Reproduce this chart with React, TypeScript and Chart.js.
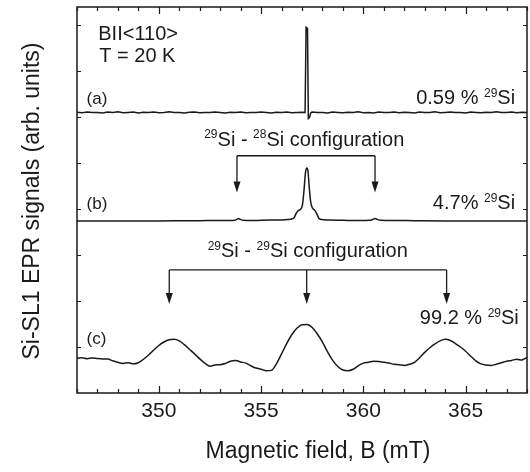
import { useEffect, useRef } from "react";
import { Chart, registerables } from "chart.js";
Chart.register(...registerables);

const fieldMin = 346;
const fieldMax = 368;
const signalMin = 0;
const signalMax = 100.7;
const xTickLabels = [350, 355, 360, 365];
const xMinorStep = 1;
const yTickValues = [12, 24, 36, 48, 60, 72, 84, 96];

// trace (a): 0.59 % 29Si
const traceA: [number, number][] = [
  [346.0, 73.25], [346.25, 73.1], [346.5, 73.3], [346.75, 73.15], [347.0, 73.2], [347.25, 73.05],
  [347.5, 73.3], [347.75, 73.2], [348.0, 73.35], [348.25, 73.1], [348.5, 73.2], [348.75, 73.3],
  [349.0, 73.05], [349.25, 73.25], [349.5, 73.15], [349.75, 73.3], [350.0, 73.1], [350.25, 73.2],
  [350.5, 73.35], [350.75, 73.15], [351.0, 73.2], [351.25, 73.05], [351.5, 73.25], [351.75, 73.3],
  [352.0, 73.1], [352.25, 73.2], [352.5, 73.15], [352.75, 73.3], [353.0, 73.2], [353.25, 73.05],
  [353.5, 73.25], [353.75, 73.2], [354.0, 73.3], [354.25, 73.1], [354.5, 73.2], [354.75, 73.15],
  [355.0, 73.3], [355.25, 73.2], [355.5, 73.05], [355.75, 73.25], [356.0, 73.2], [356.25, 73.3],
  [356.5, 73.1], [356.75, 73.2], [357.0, 73.25], [357.15, 73.2], [357.2, 95.4], [357.27, 95.1],
  [357.31, 71.6], [357.37, 71.9], [357.43, 73.1], [357.5, 73.3], [357.75, 73.15], [358.0, 73.2],
  [358.25, 73.05], [358.5, 73.3], [358.75, 73.2], [359.0, 73.1], [359.25, 73.25], [359.5, 73.2],
  [359.75, 73.35], [360.0, 73.1], [360.25, 73.2], [360.5, 73.05], [360.75, 73.3], [361.0, 73.2],
  [361.25, 73.15], [361.5, 73.3], [361.75, 73.1], [362.0, 73.25], [362.25, 73.2], [362.5, 73.05],
  [362.75, 73.3], [363.0, 73.15], [363.25, 73.2], [363.5, 73.35], [363.75, 73.1], [364.0, 73.2],
  [364.25, 73.3], [364.5, 73.15], [364.75, 73.2], [365.0, 73.05], [365.25, 73.3], [365.5, 73.2],
  [365.75, 73.1], [366.0, 73.25], [366.25, 73.2], [366.5, 73.35], [366.75, 73.15], [367.0, 73.2],
  [367.25, 73.3], [367.5, 73.1], [367.75, 73.25], [368.0, 73.2],
];

// trace (b): 4.7 % 29Si
const traceB: [number, number][] = [
  [346.0, 44.9], [347.0, 44.9], [348.0, 44.9], [349.0, 44.9], [350.0, 44.9], [351.0, 44.92],
  [352.0, 44.95], [353.0, 45.0], [353.5, 45.0], [353.7, 45.05], [353.82, 45.3], [353.9, 45.5],
  [353.98, 45.3], [354.15, 45.05], [354.5, 45.0], [355.0, 45.05], [355.5, 45.1], [356.0, 45.15],
  [356.3, 45.25], [356.5, 45.4], [356.62, 45.8], [356.72, 46.9], [356.8, 47.5], [356.92, 47.9],
  [357.02, 49.0], [357.1, 53.0], [357.17, 57.5], [357.23, 58.7], [357.29, 58.0], [357.35, 54.0],
  [357.42, 50.0], [357.52, 48.2], [357.62, 47.7], [357.72, 46.8], [357.82, 45.6], [357.95, 45.25],
  [358.3, 45.1], [359.0, 45.05], [359.8, 45.0], [360.3, 45.05], [360.45, 45.25], [360.57, 45.5],
  [360.67, 45.3], [360.85, 45.05], [361.5, 45.0], [362.5, 44.95], [364.0, 44.9], [366.0, 44.9],
  [368.0, 44.9],
];

// trace (c): 99.2 % 29Si
const traceC: [number, number][] = [
  [346.0, 9.05], [346.25, 9.2], [346.5, 8.95], [346.75, 9.15], [347.0, 9.0], [347.25, 8.9],
  [347.5, 8.85], [347.75, 8.4], [348.0, 8.0], [348.25, 7.7], [348.5, 7.9], [348.75, 7.6],
  [349.0, 7.9], [349.25, 8.8], [349.5, 9.9], [349.75, 11.2], [350.0, 12.4], [350.25, 13.3],
  [350.5, 13.9], [350.75, 14.0], [351.0, 13.6], [351.25, 12.6], [351.5, 11.4], [351.75, 10.2],
  [352.0, 8.9], [352.25, 7.8], [352.5, 7.0], [352.75, 7.3], [353.0, 7.4], [353.25, 7.7],
  [353.5, 8.3], [353.75, 8.5], [354.0, 8.1], [354.25, 7.8], [354.5, 7.1], [354.75, 6.5],
  [355.0, 6.2], [355.25, 5.8], [355.5, 5.9], [355.75, 7.6], [356.0, 10.2], [356.25, 12.9],
  [356.5, 15.2], [356.75, 16.9], [357.0, 17.8], [357.25, 17.9], [357.5, 17.1], [357.75, 15.4],
  [358.0, 13.3], [358.25, 10.7], [358.5, 8.5], [358.75, 6.9], [359.0, 6.0], [359.25, 5.8],
  [359.5, 6.2], [359.75, 7.1], [360.0, 7.8], [360.25, 8.0], [360.5, 8.3], [360.75, 8.2],
  [361.0, 8.0], [361.25, 7.8], [361.5, 7.5], [361.75, 7.4], [362.0, 7.2], [362.25, 7.5],
  [362.5, 8.0], [362.75, 9.2], [363.0, 10.6], [363.25, 11.8], [363.5, 12.8], [363.75, 13.6],
  [364.0, 14.0], [364.25, 13.7], [364.5, 12.9], [364.75, 12.0], [365.0, 10.9], [365.25, 9.6],
  [365.5, 8.4], [365.75, 7.6], [366.0, 7.3], [366.25, 7.2], [366.5, 7.5], [366.75, 7.9],
  [367.0, 8.3], [367.25, 8.5], [367.5, 8.8], [367.75, 8.6], [368.0, 9.3],
];

// brackets with arrows (field positions, signal levels)
const bracketBArrows = [353.82, 360.57];
const bracketBLevel = 61.9;
const bracketBTip = 52.3;
const bracketCArrows = [350.51, 357.23, 364.07];
const bracketCLevel = 32.1;
const bracketCTip = 23.2;

type Run = [string, boolean];
type Note = { runs: Run[]; x: number; y: number; align: "left" | "right" | "center"; size: number };

const notes: Note[] = [
  { runs: [["BII<110>", false]], x: 347.04, y: 94.05, align: "left", size: 20 },
  { runs: [["T = 20 K", false]], x: 347.09, y: 88.2, align: "left", size: 20 },
  { runs: [["(a)", false]], x: 346.47, y: 77.1, align: "left", size: 17 },
  { runs: [["0.59 % ", false], ["29", true], ["Si", false]], x: 367.42, y: 77.3, align: "right", size: 20 },
  { runs: [["29", true], ["Si - ", false], ["28", true], ["Si configuration", false]], x: 357.11, y: 66.4, align: "center", size: 20 },
  { runs: [["(b)", false]], x: 346.47, y: 49.5, align: "left", size: 17 },
  { runs: [["4.7% ", false], ["29", true], ["Si", false]], x: 367.42, y: 49.9, align: "right", size: 20 },
  { runs: [["29", true], ["Si - ", false], ["29", true], ["Si configuration", false]], x: 357.28, y: 37.3, align: "center", size: 20 },
  { runs: [["99.2 % ", false], ["29", true], ["Si", false]], x: 367.6, y: 19.9, align: "right", size: 20 },
  { runs: [["(c)", false]], x: 346.47, y: 14.5, align: "left", size: 17 },
];

const xTitle = "Magnetic field, B (mT)";
const yTitle = "Si-SL1 EPR signals (arb. units)";

const FONT = '"Liberation Sans", Arial, Helvetica, sans-serif';
const INK = "#1a1a1a";

function drawRuns(ctx: CanvasRenderingContext2D, runs: Run[], px: number, py: number, align: string, size: number) {
  const supSize = Math.round(size * 0.6);
  const widths = runs.map(([t, sup]) => {
    ctx.font = `${sup ? supSize : size}px ${FONT}`;
    return ctx.measureText(t).width;
  });
  const total = widths.reduce((a, b) => a + b, 0);
  let x = align === "left" ? px : align === "right" ? px - total : px - total / 2;
  const base = py + size * 0.36;
  ctx.textAlign = "left";
  ctx.textBaseline = "alphabetic";
  runs.forEach(([t, sup], i) => {
    ctx.font = `${sup ? supSize : size}px ${FONT}`;
    ctx.fillText(t, x, sup ? base - size * 0.36 : base);
    x += widths[i];
  });
}

const decorPlugin = {
  id: "decor",
  afterDraw(chart: any) {
    const { ctx, chartArea } = chart;
    const { left, right, top, bottom } = chartArea;
    const xs = chart.scales.x;
    const ys = chart.scales.y;
    ctx.save();
    ctx.strokeStyle = INK;
    ctx.fillStyle = INK;
    // frame
    ctx.lineWidth = 1.5;
    ctx.strokeRect(left, top, right - left, bottom - top);
    // x ticks (bottom and top, inward)
    ctx.lineWidth = 1.2;
    for (let v = fieldMin; v <= fieldMax + 1e-9; v += xMinorStep) {
      const px = Math.round(xs.getPixelForValue(v)) + 0.5;
      const major = xTickLabels.includes(v);
      const len = major ? 7 : 4;
      ctx.beginPath();
      ctx.moveTo(px, bottom);
      ctx.lineTo(px, bottom - len);
      ctx.moveTo(px, top);
      ctx.lineTo(px, top + len);
      ctx.stroke();
    }
    // y ticks (left and right, inward)
    yTickValues.forEach((v) => {
      const py = Math.round(ys.getPixelForValue(v)) + 0.5;
      ctx.beginPath();
      ctx.moveTo(left, py);
      ctx.lineTo(left + 4, py);
      ctx.moveTo(right, py);
      ctx.lineTo(right - 4, py);
      ctx.stroke();
    });
    // x tick labels
    ctx.font = `21px ${FONT}`;
    ctx.textAlign = "center";
    ctx.textBaseline = "middle";
    xTickLabels.forEach((v) => {
      ctx.fillText(String(v), xs.getPixelForValue(v), bottom + 18);
    });
    // axis titles
    ctx.font = `23px ${FONT}`;
    ctx.fillText(xTitle, 318, 452);
    ctx.save();
    ctx.translate(33, (top + bottom) / 2 + 1);
    ctx.rotate(-Math.PI / 2);
    ctx.fillText(yTitle, 0, 0);
    ctx.restore();
    // annotations
    notes.forEach((n) => {
      drawRuns(ctx, n.runs, xs.getPixelForValue(n.x), ys.getPixelForValue(n.y), n.align, n.size);
    });
    // brackets
    const bracket = (arrows: number[], level: number, tip: number) => {
      const ly = ys.getPixelForValue(level);
      const ty = ys.getPixelForValue(tip);
      const xA = arrows.map((a) => xs.getPixelForValue(a));
      ctx.lineWidth = 1.3;
      ctx.beginPath();
      ctx.moveTo(xA[0], ly);
      ctx.lineTo(xA[xA.length - 1], ly);
      ctx.stroke();
      xA.forEach((px) => {
        ctx.beginPath();
        ctx.moveTo(px, ly);
        ctx.lineTo(px, ty - 8);
        ctx.stroke();
        ctx.beginPath();
        ctx.moveTo(px, ty);
        ctx.lineTo(px - 3.5, ty - 11);
        ctx.lineTo(px + 3.5, ty - 11);
        ctx.closePath();
        ctx.fill();
      });
    };
    bracket(bracketBArrows, bracketBLevel, bracketBTip);
    bracket(bracketCArrows, bracketCLevel, bracketCTip);
    ctx.restore();
  },
};

export default function App() {
  const ref = useRef<HTMLCanvasElement | null>(null);
  useEffect(() => {
    if (!ref.current) return;
    const toPts = (t: [number, number][]) => t.map(([x, y]) => ({ x, y }));
    const ds = (t: [number, number][], mono: boolean) => ({
      data: toPts(t),
      borderColor: INK,
      borderWidth: 1.5,
      pointRadius: 0,
      fill: false,
      tension: mono ? 0.4 : 0,
      cubicInterpolationMode: mono ? ("monotone" as const) : ("default" as const),
    });
    const chart = new Chart(ref.current, {
      type: "line",
      data: { datasets: [ds(traceA, false), ds(traceB, true), ds(traceC, true)] as any },
      options: {
        animation: false,
        responsive: false,
        layout: { padding: { left: 77, right: 3, top: 7, bottom: 79 } },
        plugins: { legend: { display: false }, tooltip: { enabled: false } },
        scales: {
          x: { type: "linear", min: fieldMin, max: fieldMax, display: false },
          y: { type: "linear", min: signalMin, max: signalMax, display: false },
        },
      },
      plugins: [decorPlugin],
    });
    return () => chart.destroy();
  }, []);
  return (
    <div style={{ position: "fixed", left: 0, top: 0, width: 530, height: 472, background: "#fff" }}>
      <canvas ref={ref} width={530} height={472} style={{ width: 530, height: 472, display: "block" }} />
    </div>
  );
}
